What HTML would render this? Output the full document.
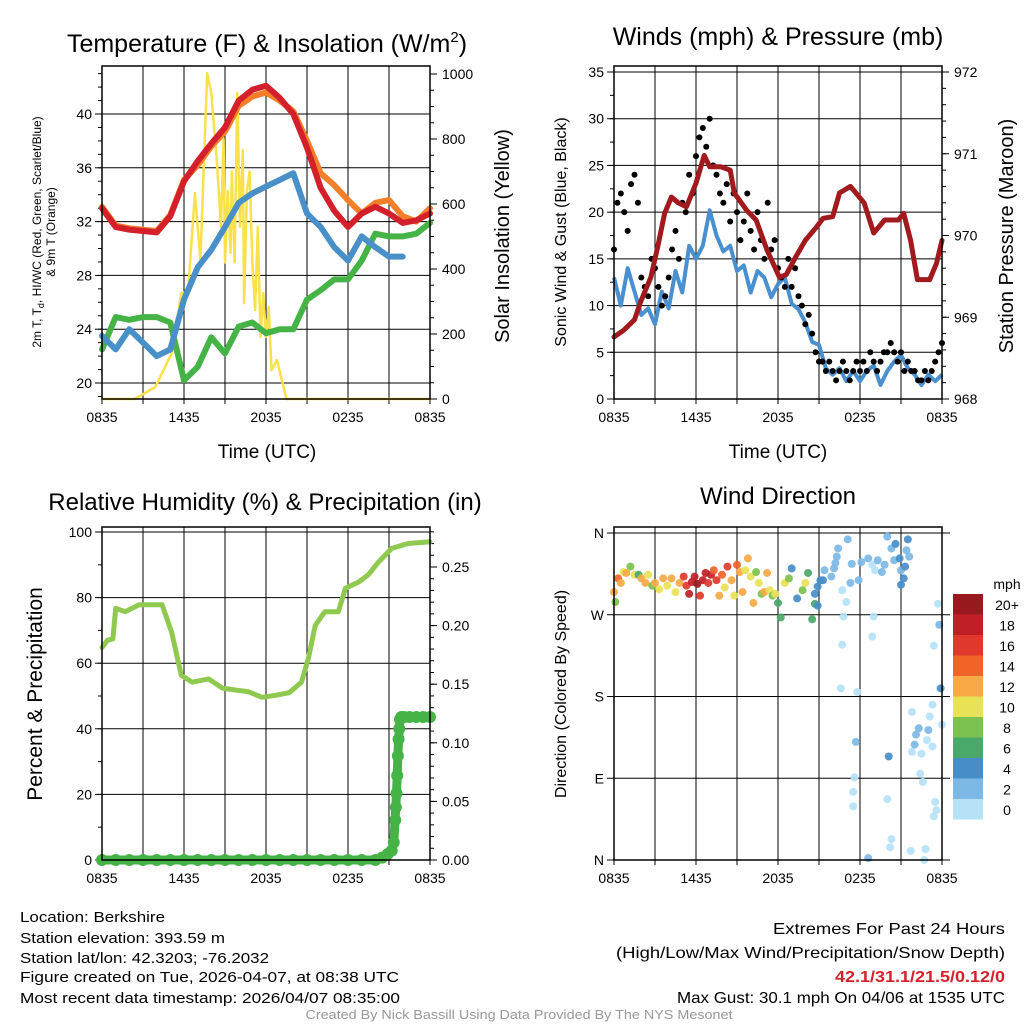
<!DOCTYPE html>
<html><head><meta charset="utf-8"><style>
html,body{margin:0;padding:0;background:#fff;}
svg{display:block;font-family:"Liberation Sans",sans-serif;}
</style></head><body>
<svg id="c" width="1024" height="1024" viewBox="0 0 1024 1024" xmlns="http://www.w3.org/2000/svg"></svg>
<script>
// ---------- DATA ----------
// Panel 1: temperatures (hourly, hours since 0835 UTC)
const tHours = [0,1,2,3,4,5,6,7,8,9,10,11,12,13,14,15,16,17,18,19,20,21,22,23,24];
const tempRed = [33.0,31.6,31.4,31.3,31.2,32.4,35.0,36.5,37.8,39.0,41.0,41.8,42.1,41.2,40.0,37.5,34.5,32.8,31.6,32.6,33.1,32.6,31.9,32.1,32.6];
const tempOrange = [33.1,31.7,31.5,31.4,31.3,32.5,35.1,36.2,37.6,38.7,40.6,41.3,41.6,41.0,40.2,38.0,35.6,34.7,33.6,32.6,33.4,33.6,32.4,32.0,33.0];
const hiwcBlue = [23.5,22.5,24.0,23.0,22.0,22.5,26.2,28.6,29.9,31.6,33.4,34.1,34.6,35.1,35.6,32.6,31.6,30.1,29.1,30.9,30.1,29.4,29.4,null,31.5];
const dewGreen = [22.5,24.9,24.7,24.9,24.9,24.5,20.2,21.2,23.4,22.2,24.2,24.5,23.7,24.0,24.0,26.2,26.9,27.7,27.7,29.1,31.1,30.9,30.9,31.1,31.9];
const insolTimes = [0,2.4,3.9,5.1,5.8,6.3,6.8,7.2,7.7,8.0,8.4,8.7,8.9,9.0,9.2,9.4,9.5,9.7,9.9,10.1,10.3,10.4,10.6,10.8,11.0,11.2,11.4,11.6,11.8,12.0,12.2,12.4,12.8,13.5,24];
const insolValues = [0,0,37,141,326,330,634,428,1003,941,735,530,800,420,640,450,700,420,941,530,766,295,640,700,420,274,530,191,326,191,283,89,120,0,0];
// Panel 2: winds & pressure
const windTimes = [0,0.5,1,1.5,2,2.5,3,3.5,4,4.5,5,5.5,6,6.5,7,7.5,8,8.5,9,9.5,10,10.5,11,11.5,12,12.5,13,13.5,14,14.5,15,15.5,16,16.5,17,17.5,18,18.5,19,19.5,20,20.5,21,21.5,22,22.5,23,23.5,24];
const sonicWind = [13,10,14,11.5,9,9.7,8,11.5,9.7,13.7,11.4,16.4,15,16.4,20.2,17.5,15.8,16.4,13.7,14.3,11.4,13.7,13,10.9,12.3,13,10.2,9.6,8.2,6.1,5.8,3.3,2.6,3.3,1.9,3,1.9,3,3.6,1.5,3,4,4.7,3.3,2.6,1.5,2.6,1.9,2.6];
const gustValues = [16,21,22,20,18,23,24,21,13,12,11,15,14,12,10,11,13,16,18,15,21,20,24,22,26,28,29,27,30,25,24,22,21,23,19,22,20,17,19,22,18,16,20,17,15,21,16,17,14,13,12,15,12,14,11,10,8,9,7,5,4,4,3,4,3,2,3,4,3,2,3,4,3,4,3,5,4,3,4,5,5,6,5,4,5,3,4,3,3,2,2,3,2,3,4,5,6];
const presTimes = [0,0.7,1.5,2,2.7,3.2,3.7,4.2,4.7,5.3,6.0,6.6,7.0,7.8,8.5,8.8,9.7,10.4,11.2,12.1,12.6,13.3,14.0,14.8,15.3,16.0,16.5,17.3,18.3,19.0,19.8,20.8,21.2,21.7,22.2,23.1,23.6,24];
const pressure = [968.76,968.84,968.97,969.21,969.49,969.86,970.27,970.47,970.40,970.35,970.64,970.98,970.84,970.84,970.80,970.52,970.31,970.19,969.82,969.49,969.52,969.74,969.94,970.10,970.21,970.23,970.52,970.60,970.40,970.03,970.19,970.19,970.27,969.94,969.46,969.46,969.66,969.94];
// Panel 3: RH & precipitation
const rhTimes = [0,0.4,0.8,1.0,1.7,2.7,4.4,5.1,5.8,6.6,7.8,8.8,9.8,10.7,11.7,12.7,13.7,14.6,15.1,15.6,16.3,17.3,17.8,18.8,19.5,20.2,21.2,22.4,24];
const rhValues = [64.8,67,67.4,76.7,75.7,77.8,77.8,69.4,56.3,54.2,55.2,52.4,51.8,51.3,49.6,50.2,51.0,54.2,61.5,71.5,75.7,75.7,82.8,84.8,87,90.7,95,96.5,97];
const precipTimes = [0,1,2,3,4,5,6,7,8,9,10,11,12,13,14,15,16,17,18,19,20,20.5,20.9,21.2,21.35,21.45,21.5,21.55,21.6,21.65,21.7,21.75,21.8,21.9,22.1,22.5,23,23.5,24];
const precipValues = [0,0,0,0,0,0,0,0,0,0,0,0,0,0,0,0,0,0,0,0,0,0.002,0.005,0.008,0.015,0.034,0.045,0.057,0.072,0.089,0.103,0.112,0.12,0.122,0.122,0.122,0.122,0.122,0.122];
// Panel 4: wind direction
const dirTimes = [0.0,0.1,0.3,0.5,0.7,0.9,1.2,1.5,1.8,2.0,2.3,2.5,2.8,3.0,3.3,3.6,3.9,4.2,4.5,4.8,5.1,5.3,5.5,5.7,5.9,6.1,6.3,6.5,6.7,6.9,7.1,7.3,7.5,7.7,7.9,8.1,8.3,8.6,8.8,9.0,9.2,9.4,9.6,9.8,10.0,10.2,10.4,10.6,10.8,11.0,11.2,11.4,11.6,11.8,12.0,12.2,12.5,12.8,13.0,13.4,13.8,14.0,14.2,14.5,14.7,14.7,14.9,14.9,15.1,15.3,15.4,15.9,16.1,16.2,16.3,16.4,17.1,17.3,17.4,17.9,18.1,18.6,18.9,19.1,19.3,19.6,19.8,20.0,20.3,20.6,20.5,20.9,21.0,21.3,21.2,21.0,21.4,21.5,21.6,16.7,17.0,16.8,16.7,16.6,17.8,17.7,17.6,17.5,17.5,18.6,18.9,19.0,20.0,20.1,20.3,20.2,21.7,22.8,22.7,21.8,22.3,22.1,22.0,21.8,22.5,22.9,23.0,23.1,23.3,23.3,22.4,22.6,23.5,23.6,23.4,23.9,24.0,23.4,23.8,23.7];
const dirValues = [295,284,310,305,317,316,323,314,314,310,305,314,302,305,298,310,302,310,295,305,312,302,293,306,312,304,291,308,316,305,314,319,308,291,314,300,323,308,291,325,317,295,319,332,312,283,317,305,293,295,316,297,291,293,283,267,305,310,321,288,297,305,316,265,282,293,301,280,308,308,319,312,321,327,334,343,353,305,326,308,328,332,325,319,330,317,325,356,343,348,330,332,319,323,310,303,341,353,334,297,284,268,237,189,185,130,91,75,59,2,246,268,67,114,23,14,10,12,0,163,145,138,127,119,117,132,143,158,171,125,95,86,64,55,48,189,149,236,259,282];
const dirSpeeds = [12,8,14,13,11,12,8,10,7,12,13,10,9,12,11,13,10,12,11,12,17,16,18,19,18,20,16,19,18,17,18,15,16,13,15,11,16,12,10,14,12,13,11,12,10,12,8,11,9,13,12,10,8,11,7,6,10,9,5,5,9,10,7,7,7,5,5,4,5,4,3,3,3,3,3,3,3,3,3,3,3,3,1,1,3,3,3,3,3,5,3,5,3,5,5,5,3,4,3,1,1,0,0,0,0,3,1,1,0,3,0,0,1,4,0,0,0,0,0,1,3,3,3,1,0,1,3,1,1,1,0,0,1,1,1,4,1,0,3,0];
const speedLabels = ["20+","18","16","14","12","10","8","6","4","2","0"];
const speedColors = ["#981a1e","#c01f28","#e0392b","#f06429","#f8a945","#e8e256","#7cc24e","#4aa86a","#478ec8","#7db9e5","#b6e2f8"];

// ---------- HELPERS ----------
const NS="http://www.w3.org/2000/svg";
const svg=document.getElementById('c');
function mk(tag,attrs,parent){const e=document.createElementNS(NS,tag);for(const k in attrs)e.setAttribute(k,attrs[k]);(parent||svg).appendChild(e);return e;}
function txt(s,x,y,size,anchor,parent,extra){const e=mk('text',Object.assign({x:x,y:y,'font-size':size,'text-anchor':anchor||'middle',fill:'#000'},extra||{}),parent);e.textContent=s;return e;}
function lin(a0,a1,p0,p1){return v=>p0+(v-a0)*(p1-p0)/(a1-a0);}
function pathFrom(xs,ys,fx,fy){let d='',pen=false;for(let i=0;i<xs.length;i++){if(ys[i]===null){pen=false;continue;}d+=(pen?'L':'M')+fx(xs[i]).toFixed(1)+','+fy(ys[i]).toFixed(1);pen=true;}return d;}
const xLabels=["0835","1435","2035","0235","0835"];

function frame(g,x0,x1,y0,y1){
  for(let h=0;h<=24;h+=3){const x=x0+(x1-x0)*h/24;
    const l=mk('line',{x1:x,x2:x,y1:y0,y2:y1,stroke:'#000','stroke-width':1},g);
    
    
    mk('line',{x1:x,x2:x,y1:y1,y2:y1+5,stroke:'#000','stroke-width':1},g);}
  for(let i=0;i<5;i++){const x=x0+(x1-x0)*i/4;
    const t=txt(xLabels[i],x,y1+23,14,'middle',g);
    
    }
}
function leftAxis(g,x0,x1,fy,majors,minors,labels,gridOn){
  minors.forEach(v=>mk('line',{x1:x0-4,x2:x0,y1:fy(v),y2:fy(v),stroke:'#000','stroke-width':1},g));
  majors.forEach((v,i)=>{mk('line',{x1:x0-7,x2:x0,y1:fy(v),y2:fy(v),stroke:'#000','stroke-width':1},g);
    if(gridOn) mk('line',{x1:x0,x2:x1,y1:fy(v),y2:fy(v),stroke:'#000','stroke-width':1},g);
    const t=txt(labels[i],x0-10,fy(v)+5,14,'end',g);
    
    });
}
function rightAxis(g,x1,fy,majors,minors,labels){
  minors.forEach(v=>mk('line',{x1:x1,x2:x1+4,y1:fy(v),y2:fy(v),stroke:'#000','stroke-width':1},g));
  majors.forEach((v,i)=>{mk('line',{x1:x1,x2:x1+7,y1:fy(v),y2:fy(v),stroke:'#000','stroke-width':1},g);
    const t=txt(labels[i],x1+12,fy(v)+5,14,'start',g);
    
    });
}
function box(g,x0,x1,y0,y1){mk('rect',{x:x0,y:y0,width:x1-x0,height:y1-y0,fill:'none',stroke:'#000','stroke-width':1.5},g);}
function range(a,b,s){const r=[];for(let v=a;v<=b+1e-9;v+=s)r.push(+v.toFixed(4));return r;}

// ---------- PANEL 1 ----------
(function(){
  const g=mk('g',{});
  
  
  const x0=102,x1=430,y0=66,y1=399;
  const fx=lin(0,24,x0,x1), fy=lin(20,40,383,114), fi=lin(0,1000,399,74);
  frame(g,x0,x1,y0,y1);
  leftAxis(g,x0,x1,fy,[20,24,28,32,36,40],range(19,43,1),["20","24","28","32","36","40"],true);
  rightAxis(g,x1,fi,[0,200,400,600,800,1000],range(0,1000,50),["0","200","400","600","800","1000"]);
  const y=mk('path',{d:pathFrom(insolTimes,insolValues,fx,fi),fill:'none',stroke:'#f9e14b','stroke-width':2.5,'stroke-linejoin':'round'},g);
  
  
  const series=[[dewGreen,'#46b347','dewpoint-line'],[hiwcBlue,'#4a90c8','heat-index-windchill-line'],[tempOrange,'#f47f2a','temp-9m-line'],[tempRed,'#d4202a','temp-2m-line']];
  series.forEach(s=>{const p=mk('path',{d:pathFrom(tHours,s[0],fx,fy),fill:'none',stroke:s[1],'stroke-width':6,'stroke-linejoin':'round','stroke-linecap':'round'},g);
    
    });
  box(g,x0,x1,y0,y1);
  const t=mk('text',{x:267,y:52,'font-size':25,'text-anchor':'middle'},g);
  
  
  t.innerHTML='Temperature (F) &amp; Insolation (W/m<tspan dy="-10" font-size="15">2</tspan><tspan dy="10">)</tspan>';
  const xt=txt('Time (UTC)',267,458,19,'middle',g);
  
  
  const l1=mk('text',{x:0,y:0,'font-size':12,'text-anchor':'middle',transform:'translate(41,232) rotate(-90)'},g);
  
  
  l1.innerHTML='2m T, T<tspan dy="3" font-size="9">d</tspan><tspan dy="-3">, HI/WC (Red, Green, Scarlet/Blue)</tspan>';
  const l2=txt('& 9m T (Orange)',0,0,12,'middle',g,{transform:'translate(55,232) rotate(-90)'});
  
  
  const r=txt('Solar Insolation (Yellow)',0,0,20,'middle',g,{transform:'translate(509,236) rotate(-90)'});
  
  
})();

// ---------- PANEL 2 ----------
(function(){
  const g=mk('g',{});
  
  
  const x0=614,x1=942,y0=66,y1=399;
  const fx=lin(0,24,x0,x1), fy=lin(0,35,399,72), fp=lin(968,972,399,72);
  frame(g,x0,x1,y0,y1);
  leftAxis(g,x0,x1,fy,[0,5,10,15,20,25,30,35],range(0,35,2.5),["0","5","10","15","20","25","30","35"],true);
  rightAxis(g,x1,fp,[968,969,970,971,972],range(968,972,0.2),["968","969","970","971","972"]);
  const b=mk('path',{d:pathFrom(windTimes,sonicWind,fx,fy),fill:'none',stroke:'#4a90cf','stroke-width':4,'stroke-linejoin':'round'},g);
  
  
  gustValues.forEach((v,i)=>{const c=mk('circle',{cx:fx(i*24/(gustValues.length-1)),cy:fy(v),r:3,fill:'#000'},g);
    
    });
  const p=mk('path',{d:pathFrom(presTimes,pressure,fx,fp),fill:'none',stroke:'#a11a1e','stroke-width':5,'stroke-linejoin':'round','stroke-linecap':'round'},g);
  
  
  box(g,x0,x1,y0,y1);
  const t=txt('Winds (mph) & Pressure (mb)',778,45,25,'middle',g);
  
  
  const xt=txt('Time (UTC)',778,458,19,'middle',g);
  
  
  const l=txt('Sonic Wind & Gust (Blue, Black)',0,0,16,'middle',g,{transform:'translate(566,232) rotate(-90)'});
  
  
  const r=txt('Station Pressure (Maroon)',0,0,20,'middle',g,{transform:'translate(1013,236) rotate(-90)'});
  
  
})();

// ---------- PANEL 3 ----------
(function(){
  const g=mk('g',{});
  
  
  const x0=102,x1=430,y0=527,y1=860;
  const fx=lin(0,24,x0,x1), fy=lin(0,100,860,532), fr=lin(0,0.25,860,567);
  frame(g,x0,x1,y0,y1);
  leftAxis(g,x0,x1,fy,[0,20,40,60,80,100],range(0,100,10),["0","20","40","60","80","100"],true);
  rightAxis(g,x1,fr,[0,0.05,0.1,0.15,0.2,0.25],range(0,0.28,0.01),["0.00","0.05","0.10","0.15","0.20","0.25"]);
  const p=mk('path',{d:pathFrom(rhTimes,rhValues,fx,fy),fill:'none',stroke:'#8fc94f','stroke-width':5,'stroke-linejoin':'round','stroke-linecap':'round'},g);
  
  
  const pl=mk('path',{d:pathFrom(precipTimes,precipValues,fx,fr),fill:'none',stroke:'#46b347','stroke-width':9,'stroke-linejoin':'round','stroke-linecap':'round'},g);
  
  
  precipTimes.forEach((t,i)=>{const c=mk('circle',{cx:fx(t),cy:fr(precipValues[i]),r:6,fill:'#46b347'},g);
    
    });
  box(g,x0,x1,y0,y1);
  const t=txt('Relative Humidity (%) & Precipitation (in)',265,510,24,'middle',g);
  
  
  const l=txt('Percent & Precipitation',0,0,21,'middle',g,{transform:'translate(42,694) rotate(-90)'});
  
  
})();

// ---------- PANEL 4 ----------
(function(){
  const g=mk('g',{});
  
  
  const x0=614,x1=942,y0=527,y1=860;
  const fx=lin(0,24,x0,x1), fy=lin(0,360,860,533);
  frame(g,x0,x1,y0,y1);
  leftAxis(g,x0,x1,fy,[0,90,180,270,360],[],["N","E","S","W","N"],true);
  [0,90,180,270,360].forEach(v=>mk('line',{x1:x1,x2:x1+8,y1:fy(v),y2:fy(v),stroke:'#000','stroke-width':1},g));
  function col(s){let k=Math.floor(s/2);if(k>10)k=10;return speedColors[10-k];}
  dirTimes.forEach((t,i)=>{const c=mk('circle',{cx:fx(t),cy:fy(dirValues[i]),r:4,fill:col(dirSpeeds[i]),'fill-opacity':0.92},g);
    
    });
  box(g,x0,x1,y0,y1);
  const t=txt('Wind Direction',778,504,24,'middle',g);
  
  
  const l=txt('Direction (Colored By Speed)',0,0,16,'middle',g,{transform:'translate(566,694) rotate(-90)'});
  
  
  const lg=mk('g',{},g);
  
  
  const u=txt('mph',1007,589,14,'middle',lg);
  
  
  speedLabels.forEach((s,i)=>{const yy=594+i*20.5;
    const r=mk('rect',{x:953,y:yy,width:30,height:20.5,fill:speedColors[i]},lg);
    
    
    const tt=txt(s,1007,yy+16,14,'middle',lg);
    
    });
})();

// ---------- FOOTER ----------
(function(){
  const g=mk('g',{});
  
  
  const lines=[["Location: Berkshire",922,145],["Station elevation: 393.59 m",943,205],["Station lat/lon: 42.3203; -76.2032",963,249],["Figure created on Tue, 2026-04-07, at 08:38 UTC",982,379],["Most recent data timestamp: 2026/04/07 08:35:00",1003,380]];
  lines.forEach(l=>{const t=txt(l[0],20,l[1],15,'start',g,{textLength:l[2],lengthAdjust:'spacingAndGlyphs'});
    
    });
  const r1=txt('Extremes For Past 24 Hours',1005,934,16,'end',g,{textLength:232,lengthAdjust:'spacingAndGlyphs'});
  
  
  const r2=txt('(High/Low/Max Wind/Precipitation/Snow Depth)',1005,958,16,'end',g,{textLength:389,lengthAdjust:'spacingAndGlyphs'});
  
  
  const r3=txt('42.1/31.1/21.5/0.12/0',1005,982,16,'end',g,{fill:'#d4202a','font-weight':'bold',textLength:170,lengthAdjust:'spacingAndGlyphs'});
  
  
  const r4=txt('Max Gust: 30.1 mph On 04/06 at 1535 UTC',1005,1003,16,'end',g,{textLength:328,lengthAdjust:'spacingAndGlyphs'});
  
  
  const c=txt('Created By Nick Bassill Using Data Provided By The NYS Mesonet',519,1019,13,'middle',g,{fill:'#999',textLength:427,lengthAdjust:'spacingAndGlyphs'});
  
  
})();
</script>
</body></html>
